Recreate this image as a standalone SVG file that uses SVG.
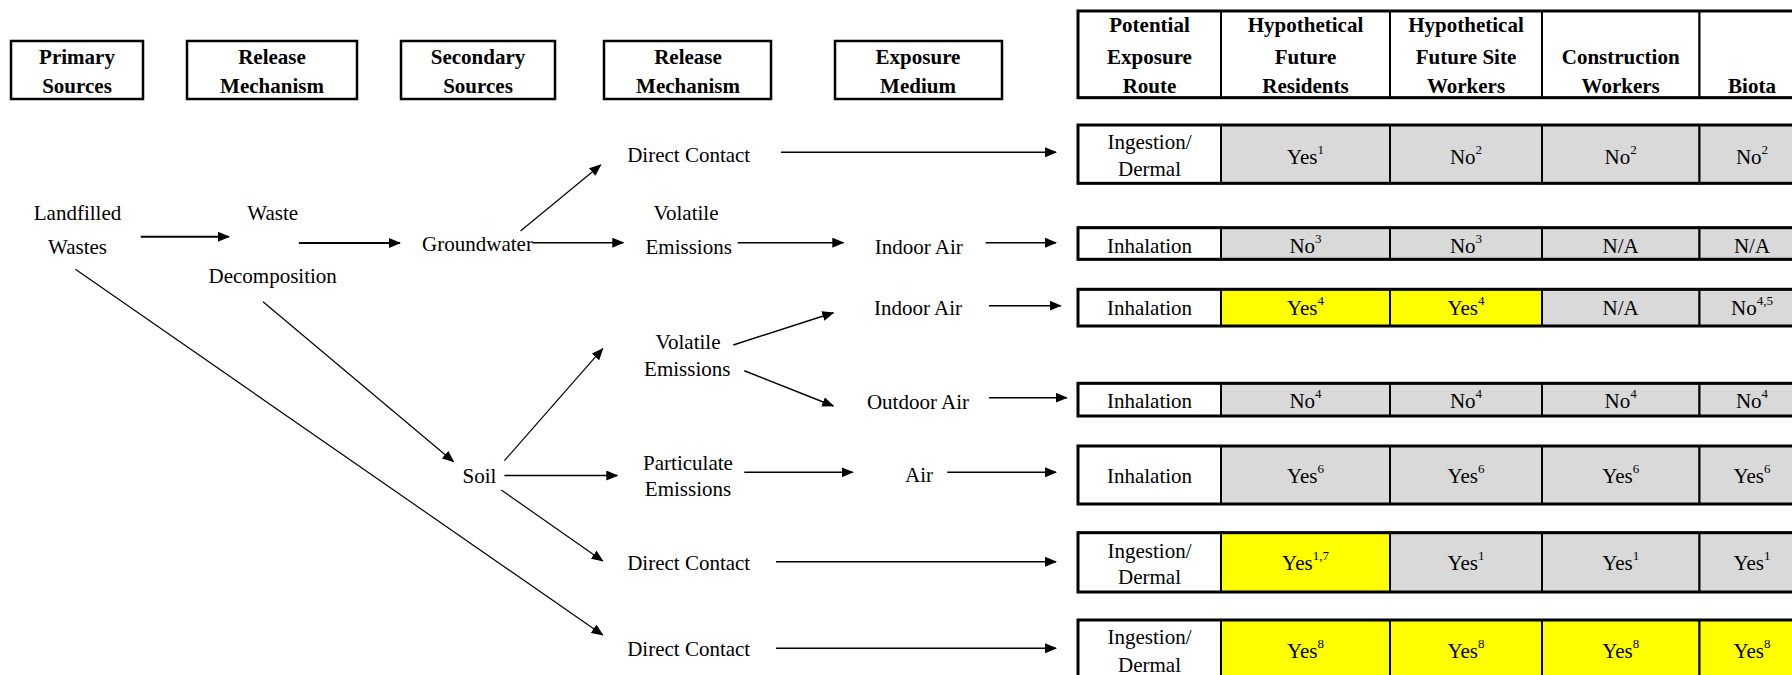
<svg xmlns="http://www.w3.org/2000/svg" width="1792" height="675" viewBox="0 0 1792 675">
<defs>
<marker id="ah" viewBox="0 0 12 10" refX="11" refY="5" markerWidth="12" markerHeight="10" markerUnits="userSpaceOnUse" orient="auto">
<path d="M0,0 L12,5 L0,10 Z" fill="#000"/>
</marker>
</defs>
<style>
text{font-family:"Liberation Serif","Times New Roman",serif;font-size:21px;fill:#000;text-anchor:middle}
.b{font-weight:bold}
.sup{font-size:13px}
.hbox{fill:#fff;stroke:#000;stroke-width:2.5}
.cw{fill:#fff;stroke:#000;stroke-width:2}
.cg{fill:#d9d9d9;stroke:#000;stroke-width:2}
.cy{fill:#ffff00;stroke:#000;stroke-width:2}
.outer{fill:none;stroke:#000;stroke-width:3}
.c{stroke:#000;fill:none;marker-end:url(#ah)}
.t{stroke-width:2}
.m{stroke-width:1.5}
.d{stroke-width:1.2}
</style>
<rect width="1792" height="675" fill="#fff"/>

<g id="hdr-primary"><rect class="hbox" x="11" y="41" width="132" height="58"/><text class="b" x="77" y="63.5">Primary</text><text class="b" x="77" y="93">Sources</text></g>
<g id="hdr-release1"><rect class="hbox" x="187" y="41" width="170" height="58"/><text class="b" x="272" y="63.5">Release</text><text class="b" x="272" y="93">Mechanism</text></g>
<g id="hdr-secondary"><rect class="hbox" x="401" y="41" width="154" height="58"/><text class="b" x="478" y="63.5">Secondary</text><text class="b" x="478" y="93">Sources</text></g>
<g id="hdr-release2"><rect class="hbox" x="604" y="41" width="167" height="58"/><text class="b" x="688" y="63.5">Release</text><text class="b" x="688" y="93">Mechanism</text></g>
<g id="hdr-medium"><rect class="hbox" x="835" y="41" width="167" height="58"/><text class="b" x="918" y="63.5">Exposure</text><text class="b" x="918" y="93">Medium</text></g>

<g id="connectors">
<line class="c t" x1="140.8" y1="236.7" x2="228.9" y2="236.7"/>
<line class="c t" x1="298.9" y1="243" x2="400" y2="243"/>
<line class="c d" x1="520.5" y1="231" x2="600.7" y2="165"/>
<line class="c m" x1="533" y1="242.7" x2="623.3" y2="242.7"/>
<line class="c d" x1="263" y1="301.7" x2="453.5" y2="461.7"/>
<line class="c d" x1="75.4" y1="269.3" x2="602.7" y2="635"/>
<line class="c d" x1="504.4" y1="460.7" x2="602.7" y2="348.7"/>
<line class="c m" x1="504.4" y1="475.5" x2="617.3" y2="475.5"/>
<line class="c d" x1="501.3" y1="490" x2="602.7" y2="561"/>
<line class="c m" x1="781" y1="152.3" x2="1056" y2="152.3"/>
<line class="c m" x1="737.7" y1="242.7" x2="843.3" y2="242.7"/>
<line class="c m" x1="985.7" y1="242.7" x2="1056" y2="242.7"/>
<line class="c m" x1="989" y1="305.7" x2="1060.7" y2="305.7"/>
<line class="c m" x1="733.3" y1="345" x2="833.3" y2="312.7"/>
<line class="c m" x1="744.3" y1="370.7" x2="833.3" y2="406"/>
<line class="c m" x1="989" y1="397.7" x2="1066.7" y2="397.7"/>
<line class="c m" x1="744.3" y1="472.3" x2="852.7" y2="472.3"/>
<line class="c m" x1="947.3" y1="472.3" x2="1056" y2="472.3"/>
<line class="c m" x1="776" y1="561.7" x2="1056" y2="561.7"/>
<line class="c m" x1="776" y1="648.3" x2="1056" y2="648.3"/>
</g>

<g id="n-landfilled"><text x="77.5" y="220.3">Landfilled</text><text x="77.5" y="253.7">Wastes</text></g>
<g id="n-decomp"><text x="272.7" y="220.3">Waste</text><text x="272.7" y="282.7">Decomposition</text></g>
<g id="n-groundwater"><text x="477.5" y="251">Groundwater</text></g>
<g id="n-soil"><text x="479.4" y="482.7">Soil</text></g>
<g id="n-dc1"><text x="688.7" y="162">Direct Contact</text></g>
<g id="n-vol1"><text x="686" y="220.3">Volatile</text><text x="688.7" y="253.7">Emissions</text></g>
<g id="n-indoor1"><text x="918.8" y="253.7">Indoor Air</text></g>
<g id="n-indoor2"><text x="918" y="315.3">Indoor Air</text></g>
<g id="n-vol2"><text x="688" y="348.7">Volatile</text><text x="687.3" y="376.3">Emissions</text></g>
<g id="n-outdoor"><text x="918" y="408.7">Outdoor Air</text></g>
<g id="n-part"><text x="688" y="469.7">Particulate</text><text x="688" y="496.3">Emissions</text></g>
<g id="n-air"><text x="919" y="482">Air</text></g>
<g id="n-dc2"><text x="688.7" y="569.7">Direct Contact</text></g>
<g id="n-dc3"><text x="688.7" y="656.3">Direct Contact</text></g>

<g id="table-header">
<rect class="cw" x="1078" y="11" width="143" height="86.7"/>
<rect class="cw" x="1221" y="11" width="169" height="86.7"/>
<rect class="cw" x="1390" y="11" width="152" height="86.7"/>
<rect class="cw" x="1542" y="11" width="157.5" height="86.7"/>
<rect class="cw" x="1699.5" y="11" width="110" height="86.7"/>
<rect class="outer" x="1078" y="11" width="731.5" height="86.7"/>
<text class="b" x="1149.5" y="32">Potential</text><text class="b" x="1149.5" y="63.7">Exposure</text><text class="b" x="1149.5" y="93">Route</text>
<text class="b" x="1305.5" y="32">Hypothetical</text><text class="b" x="1305.5" y="63.7">Future</text><text class="b" x="1305.5" y="93">Residents</text>
<text class="b" x="1466" y="32">Hypothetical</text><text class="b" x="1466" y="63.7">Future Site</text><text class="b" x="1466" y="93">Workers</text>
<text class="b" x="1620.7" y="63.7">Construction</text><text class="b" x="1620.7" y="93">Workers</text>
<text class="b" x="1752" y="93">Biota</text>
</g>

<g id="row1">
<rect class="cw" x="1078" y="125" width="143" height="58.3"/>
<rect class="cg" x="1221" y="125" width="169" height="58.3"/>
<rect class="cg" x="1390" y="125" width="152" height="58.3"/>
<rect class="cg" x="1542" y="125" width="157.5" height="58.3"/>
<rect class="cg" x="1699.5" y="125" width="110" height="58.3"/>
<rect class="outer" x="1078" y="125" width="731.5" height="58.3"/>
<text x="1149.5" y="148.7">Ingestion/</text><text x="1149.5" y="176.3">Dermal</text>
<text x="1305.5" y="163.7">Yes<tspan class="sup" dy="-10">1</tspan></text>
<text x="1466" y="163.7">No<tspan class="sup" dy="-10">2</tspan></text>
<text x="1620.7" y="163.7">No<tspan class="sup" dy="-10">2</tspan></text>
<text x="1752" y="163.7">No<tspan class="sup" dy="-10">2</tspan></text>
</g>

<g id="row2">
<rect class="cw" x="1078" y="227.7" width="143" height="31.6"/>
<rect class="cg" x="1221" y="227.7" width="169" height="31.6"/>
<rect class="cg" x="1390" y="227.7" width="152" height="31.6"/>
<rect class="cg" x="1542" y="227.7" width="157.5" height="31.6"/>
<rect class="cg" x="1699.5" y="227.7" width="110" height="31.6"/>
<rect class="outer" x="1078" y="227.7" width="731.5" height="31.6"/>
<text x="1149.5" y="253">Inhalation</text>
<text x="1305.5" y="253">No<tspan class="sup" dy="-10">3</tspan></text>
<text x="1466" y="253">No<tspan class="sup" dy="-10">3</tspan></text>
<text x="1620.7" y="253">N/A</text>
<text x="1752" y="253">N/A</text>
</g>

<g id="row3">
<rect class="cw" x="1078" y="289.3" width="143" height="36.7"/>
<rect class="cy" x="1221" y="289.3" width="169" height="36.7"/>
<rect class="cy" x="1390" y="289.3" width="152" height="36.7"/>
<rect class="cg" x="1542" y="289.3" width="157.5" height="36.7"/>
<rect class="cg" x="1699.5" y="289.3" width="110" height="36.7"/>
<rect class="outer" x="1078" y="289.3" width="731.5" height="36.7"/>
<text x="1149.5" y="315.3">Inhalation</text>
<text x="1305.5" y="315.3">Yes<tspan class="sup" dy="-10">4</tspan></text>
<text x="1466" y="315.3">Yes<tspan class="sup" dy="-10">4</tspan></text>
<text x="1620.7" y="315.3">N/A</text>
<text x="1752" y="315.3">No<tspan class="sup" dy="-10">4,5</tspan></text>
</g>

<g id="row4">
<rect class="cw" x="1078" y="383.3" width="143" height="32.7"/>
<rect class="cg" x="1221" y="383.3" width="169" height="32.7"/>
<rect class="cg" x="1390" y="383.3" width="152" height="32.7"/>
<rect class="cg" x="1542" y="383.3" width="157.5" height="32.7"/>
<rect class="cg" x="1699.5" y="383.3" width="110" height="32.7"/>
<rect class="outer" x="1078" y="383.3" width="731.5" height="32.7"/>
<text x="1149.5" y="408">Inhalation</text>
<text x="1305.5" y="408">No<tspan class="sup" dy="-10">4</tspan></text>
<text x="1466" y="408">No<tspan class="sup" dy="-10">4</tspan></text>
<text x="1620.7" y="408">No<tspan class="sup" dy="-10">4</tspan></text>
<text x="1752" y="408">No<tspan class="sup" dy="-10">4</tspan></text>
</g>

<g id="row5">
<rect class="cw" x="1078" y="446" width="143" height="58"/>
<rect class="cg" x="1221" y="446" width="169" height="58"/>
<rect class="cg" x="1390" y="446" width="152" height="58"/>
<rect class="cg" x="1542" y="446" width="157.5" height="58"/>
<rect class="cg" x="1699.5" y="446" width="110" height="58"/>
<rect class="outer" x="1078" y="446" width="731.5" height="58"/>
<text x="1149.5" y="483">Inhalation</text>
<text x="1305.5" y="483">Yes<tspan class="sup" dy="-10">6</tspan></text>
<text x="1466" y="483">Yes<tspan class="sup" dy="-10">6</tspan></text>
<text x="1620.7" y="483">Yes<tspan class="sup" dy="-10">6</tspan></text>
<text x="1752" y="483">Yes<tspan class="sup" dy="-10">6</tspan></text>
</g>

<g id="row6">
<rect class="cw" x="1078" y="532.7" width="143" height="59.3"/>
<rect class="cy" x="1221" y="532.7" width="169" height="59.3"/>
<rect class="cg" x="1390" y="532.7" width="152" height="59.3"/>
<rect class="cg" x="1542" y="532.7" width="157.5" height="59.3"/>
<rect class="cg" x="1699.5" y="532.7" width="110" height="59.3"/>
<rect class="outer" x="1078" y="532.7" width="731.5" height="59.3"/>
<text x="1149.5" y="558">Ingestion/</text><text x="1149.5" y="584.3">Dermal</text>
<text x="1305.5" y="570">Yes<tspan class="sup" dy="-10">1,7</tspan></text>
<text x="1466" y="570">Yes<tspan class="sup" dy="-10">1</tspan></text>
<text x="1620.7" y="570">Yes<tspan class="sup" dy="-10">1</tspan></text>
<text x="1752" y="570">Yes<tspan class="sup" dy="-10">1</tspan></text>
</g>

<g id="row7">
<rect class="cw" x="1078" y="620" width="143" height="62"/>
<rect class="cy" x="1221" y="620" width="169" height="62"/>
<rect class="cy" x="1390" y="620" width="152" height="62"/>
<rect class="cy" x="1542" y="620" width="157.5" height="62"/>
<rect class="cy" x="1699.5" y="620" width="110" height="62"/>
<rect class="outer" x="1078" y="620" width="731.5" height="62"/>
<text x="1149.5" y="644.3">Ingestion/</text><text x="1149.5" y="672">Dermal</text>
<text x="1305.5" y="657.7">Yes<tspan class="sup" dy="-10">8</tspan></text>
<text x="1466" y="657.7">Yes<tspan class="sup" dy="-10">8</tspan></text>
<text x="1620.7" y="657.7">Yes<tspan class="sup" dy="-10">8</tspan></text>
<text x="1752" y="657.7">Yes<tspan class="sup" dy="-10">8</tspan></text>
</g>
</svg>
